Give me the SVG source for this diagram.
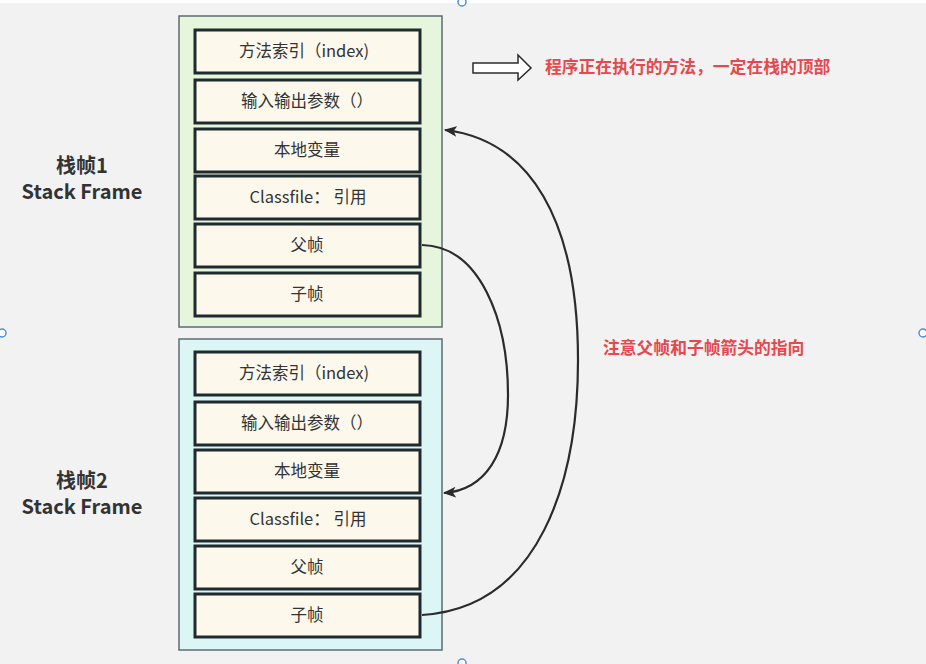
<svg xmlns="http://www.w3.org/2000/svg" width="926" height="664" viewBox="0 0 926 664">
  <style>
    .frame1 { fill: #e6f6dd; stroke: #5f6b70; stroke-width: 1.5; }
    .frame2 { fill: #dcf6f6; stroke: #5f6b70; stroke-width: 1.5; }
    .cell { fill: #fcf8eb; stroke: #1e2a2e; stroke-width: 3; }
    .cell-text { font-family: "Noto Sans CJK SC", "Noto Sans", sans-serif; font-size: 16.5px; fill: #333333; text-anchor: middle; }
    .title { font-family: "Noto Sans CJK SC", "Noto Sans", sans-serif; font-size: 20px; font-weight: bold; fill: #333333; text-anchor: middle; }
    .note { font-family: "Noto Sans CJK SC", sans-serif; font-size: 16.8px; font-weight: bold; fill: #e5484d; }
    .link { fill: none; stroke: #2b2b2b; stroke-width: 2.2; }
    .handle { fill: #ffffff; stroke: #4a90e2; stroke-width: 1.5; }
  </style>
  <defs>
    <marker id="arrowhead" viewBox="0 0 12 10" refX="11" refY="5" markerWidth="13" markerHeight="11" orient="auto" markerUnits="userSpaceOnUse">
      <path d="M0,0 L12,5 L0,10 L3,5 z" fill="#2b2b2b"/>
    </marker>
  </defs>

  <!-- canvas -->
  <rect x="0" y="0" width="926" height="664" fill="#f2f2f2"/>
  <rect x="0" y="0" width="926" height="3" fill="#ffffff"/>

  <!-- stack frame 1 -->
  <g id="frame1">
    <rect class="frame1" x="179" y="16" width="263" height="311"/>
    <text class="title" x="82" y="173">栈帧1</text>
    <text class="title" x="82" y="199">Stack Frame</text>
  </g>
  <g id="f1-index"><rect class="cell" x="195" y="30" width="225" height="43"/><text class="cell-text" x="304" y="57">方法索引（index)</text></g>
  <g id="f1-io"><rect class="cell" x="195" y="80" width="225" height="43"/><text class="cell-text" x="307" y="107">输入输出参数（）</text></g>
  <g id="f1-locals"><rect class="cell" x="195" y="129" width="225" height="43"/><text class="cell-text" x="307" y="156">本地变量</text></g>
  <g id="f1-classfile"><rect class="cell" x="195" y="176" width="225" height="43"/><text class="cell-text" x="308" y="203">Classfile： 引用</text></g>
  <g id="f1-parent"><rect class="cell" x="195" y="224" width="225" height="43"/><text class="cell-text" x="307" y="251">父帧</text></g>
  <g id="f1-child"><rect class="cell" x="195" y="273" width="225" height="43"/><text class="cell-text" x="307" y="300">子帧</text></g>

  <!-- stack frame 2 -->
  <g id="frame2">
    <rect class="frame2" x="179" y="339" width="263" height="311"/>
    <text class="title" x="82" y="488">栈帧2</text>
    <text class="title" x="82" y="514">Stack Frame</text>
  </g>
  <g id="f2-index"><rect class="cell" x="195" y="352" width="225" height="43"/><text class="cell-text" x="304" y="379">方法索引（index)</text></g>
  <g id="f2-io"><rect class="cell" x="195" y="402" width="225" height="43"/><text class="cell-text" x="307" y="429">输入输出参数（）</text></g>
  <g id="f2-locals"><rect class="cell" x="195" y="450" width="225" height="43"/><text class="cell-text" x="307" y="477">本地变量</text></g>
  <g id="f2-classfile"><rect class="cell" x="195" y="498" width="225" height="43"/><text class="cell-text" x="308" y="525">Classfile： 引用</text></g>
  <g id="f2-parent"><rect class="cell" x="195" y="546" width="225" height="43"/><text class="cell-text" x="307" y="573">父帧</text></g>
  <g id="f2-child"><rect class="cell" x="195" y="594" width="225" height="43"/><text class="cell-text" x="307" y="621">子帧</text></g>

  <!-- connectors -->
  <g id="connectors">
    <path class="link" d="M422,245 C480,246 508,320 508,395 C508,455 485,490 444,493" marker-end="url(#arrowhead)"/>
    <path class="link" d="M422,615 C540,608 578,480 578,360 C578,220 530,140 445,130" marker-end="url(#arrowhead)"/>
    <!-- hollow pointer to the top frame -->
    <path d="M473,63 L518,63 L518,55 L531,68 L518,80 L518,73 L473,73 z" fill="#ffffff" stroke="#2b2b2b" stroke-width="1.5"/>
  </g>

  <!-- notes -->
  <g id="notes">
    <text class="note" x="545" y="73">程序正在执行的方法，一定在栈的顶部</text>
    <text class="note" x="603" y="354">注意父帧和子帧箭头的指向</text>
  </g>

  <!-- selection handles -->
  <g id="handles">
    <circle class="handle" cx="462" cy="2" r="4"/>
    <circle class="handle" cx="2" cy="333" r="4"/>
    <circle class="handle" cx="923" cy="333" r="4"/>
    <circle class="handle" cx="462" cy="663" r="4"/>
  </g>
</svg>
